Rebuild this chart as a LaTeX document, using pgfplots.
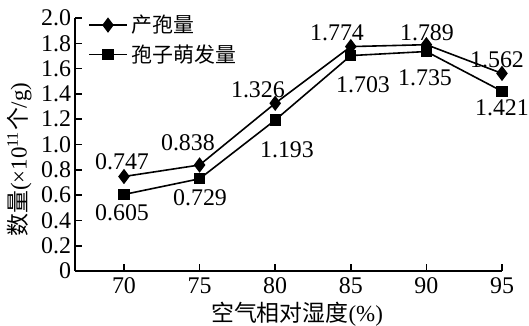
\documentclass[border=0pt]{standalone}
\usepackage{pgfplots}
\pgfplotsset{compat=1.18}
\usepackage{fontspec}
\setmainfont{Liberation Serif}
\newfontfamily\cjk{Noto Sans CJK SC}
\begin{document}
\begin{tikzpicture}
\path[use as bounding box] (0,0) rectangle (264.5bp,163bp);
\begin{axis}[
  at={(37.5bp,27.5bp)}, anchor=south west,
  scale only axis, width=213.5bp, height=126.5bp,
  xmin=66.76, xmax=95, ymin=0, ymax=2.0,
  clip=false,
  axis x line=bottom, axis y line=left,
  axis line style={-, line width=0.8bp},
  xtick={70,75,80,85,90,95},
  ytick={0,0.2,0.4,0.6,0.8,1.0,1.2,1.4,1.6,1.8,2.0},
  yticklabels={0,0.2,0.4,0.6,0.8,1.0,1.2,1.4,1.6,1.8,2.0},
  tick align=inside, major tick length=3.5bp,
  tick style={line width=0.8bp, black},
  /pgf/number format/assume math mode=true,
  ticklabel style={font=\fontsize{12}{12}\selectfont},
  yticklabel style={xshift=1.5bp},
  xlabel={{\cjk 空气相对湿度}(\%)},
  xlabel style={at={(axis description cs:0.52,0)}, anchor=center, yshift=-21.5bp, font=\fontsize{11.5}{12}\selectfont},
  ylabel={{\cjk 数量}(×10\textsuperscript{11}{\cjk 个}/g)},
  ylabel style={at={(axis description cs:-0.13,0.44)}, anchor=center, font=\fontsize{11.5}{12}\selectfont},
  legend style={draw=none, fill=none, at={(0.03,1.03)}, anchor=north west,
    font=\cjk\fontsize{10.5}{11}\selectfont, inner sep=0pt, row sep=0.5bp,
    legend cell align=left},
  legend image code/.code={\draw[mark repeat=2,mark phase=2,#1] plot coordinates {(0bp,0bp) (9.5bp,0bp) (19bp,0bp)};},
]
\addplot[black, line width=0.8bp, mark=diamond*, mark size=3.2bp, mark options={solid, fill=black}]
  coordinates {(70,0.747) (75,0.838) (80,1.326) (85,1.774) (90,1.789) (95,1.562)};
\addlegendentry{产孢量}
\addplot[black, line width=0.8bp, mark=square*, mark size=2.4bp, mark options={solid, fill=black}]
  coordinates {(70,0.605) (75,0.729) (80,1.193) (85,1.703) (90,1.735) (95,1.421)};
\addlegendentry{孢子萌发量}
\begin{scope}[every node/.style={font=\fontsize{12}{12}\selectfont, inner sep=0pt}]
\node at (axis cs:69.87,0.862) {0.747};
\node at (axis cs:74.23,1.012) {0.838};
\node at (axis cs:78.86,1.431) {1.326};
\node at (axis cs:84.09,1.881) {1.774};
\node at (axis cs:90.04,1.881) {1.789};
\node at (axis cs:94.67,1.668) {1.562};
\node at (axis cs:69.87,0.458) {0.605};
\node at (axis cs:75.03,0.577) {0.729};
\node at (axis cs:80.78,0.957) {1.193};
\node at (axis cs:85.81,1.470) {1.703};
\node at (axis cs:89.91,1.526) {1.735};
\node at (axis cs:95.0,1.289) {1.421};
\end{scope}
\end{axis}
\end{tikzpicture}
\end{document}
